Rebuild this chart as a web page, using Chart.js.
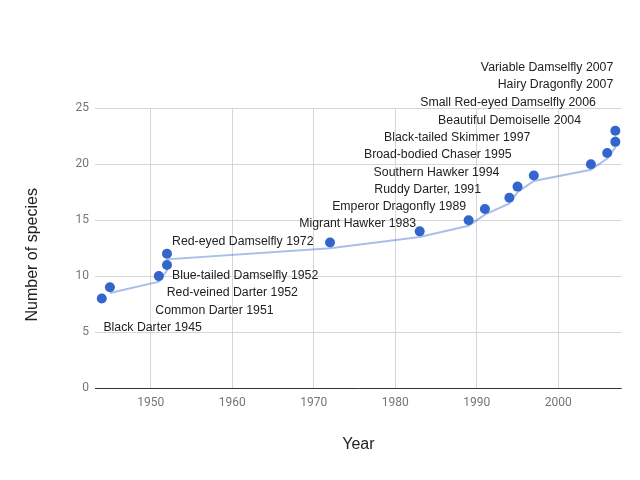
<!DOCTYPE html>
<html>
<head>
<meta charset="utf-8">
<script src="https://cdn.jsdelivr.net/npm/chart.js@4"></script>
<style>
  html, body { margin: 0; padding: 0; background: #fff; }
  #wrap { width: 640px; height: 480px; }
</style>
</head>
<body>
<div id="wrap"><canvas id="c" width="640" height="480"></canvas></div>
<script>
// ---- data ----
const years   = [1944, 1945, 1951, 1952, 1952, 1972, 1983, 1989, 1991, 1994, 1995, 1997, 2004, 2006, 2007, 2007];
const species = [8, 9, 10, 11, 12, 13, 14, 15, 16, 17, 18, 19, 20, 21, 22, 23];
const trend   = [null, 8.5, 9.5, 10.5, 11.5, 12.5, 13.5, 14.5, 15.5, 16.5, 17.5, 18.5, 19.5, 20.5, 21.5, 22.5];
const pointLabels = [
  '', 'Black Darter 1945', 'Common Darter 1951', 'Red-veined Darter 1952', 'Blue-tailed Damselfly 1952',
  'Red-eyed Damselfly 1972', 'Migrant Hawker 1983', 'Emperor Dragonfly 1989', 'Ruddy Darter, 1991',
  'Southern Hawker 1994', 'Broad-bodied Chaser 1995', 'Black-tailed Skimmer 1997', 'Beautiful Demoiselle 2004',
  'Small Red-eyed Damselfly 2006', 'Hairy Dragonfly 2007', 'Variable Damselfly 2007'
];
const xTicks = [1950, 1960, 1970, 1980, 1990, 2000];
const yTicks = [0, 5, 10, 15, 20, 25];

// ---- label layout (pixel offsets from each point, alignment) ----
const labelLayout = [
  null,
  [-6.5, 40.5, 'left'], [-3.5, 34, 'left'], [-0.3, 27.9, 'left'], [5, 22.1, 'left'],
  [-16.5, -1.4, 'right'], [-3.6, -7.5, 'right'], [-2.5, -13.3, 'right'], [-3.9, -19.5, 'right'],
  [-10, -25.6, 'right'], [-5.9, -31.7, 'right'], [-3.5, -37.9, 'right'], [-9.9, -44, 'right'],
  [-11.3, -50.5, 'right'], [-2.1, -56.9, 'right'], [-2.1, -63.1, 'right']
];

const pointData = years.map((y, i) => ({ x: y, y: species[i] }));
const trendData = years.map((y, i) => ({ x: y, y: trend[i] })).filter(p => p.y !== null);

const labelPlugin = {
  id: 'pointLabels',
  afterDatasetsDraw(chart) {
    const meta = chart.getDatasetMeta(1);
    const ctx = chart.ctx;
    ctx.save();
    ctx.font = '12.3px "Liberation Sans", Arial, sans-serif';
    ctx.fillStyle = '#222';
    ctx.textBaseline = 'middle';
    meta.data.forEach((el, i) => {
      const txt = pointLabels[i];
      const lay = labelLayout[i];
      if (!txt || !lay) return;
      ctx.textAlign = lay[2];
      ctx.fillText(txt, el.x + lay[0], el.y + lay[1]);
    });
    ctx.restore();
  }
};

new Chart(document.getElementById('c'), {
  type: 'scatter',
  data: {
    datasets: [
      {
        label: 'Trend',
        data: trendData,
        showLine: true,
        borderColor: 'rgba(51,102,204,0.42)',
        borderWidth: 2,
        pointRadius: 0,
        pointHoverRadius: 0,
        tension: 0,
        order: 2
      },
      {
        label: 'Number of species',
        data: pointData,
        backgroundColor: '#3366cc',
        borderWidth: 0,
        pointRadius: 5,
        pointHoverRadius: 5,
        order: 1
      }
    ]
  },
  options: {
    responsive: false,
    animation: false,
    devicePixelRatio: 1,
    layout: { padding: { left: 0, right: 18.3, top: 108.3, bottom: 0 } },
    plugins: { legend: { display: false }, tooltip: { enabled: false } },
    scales: {
      x: {
        type: 'linear',
        min: 1943.17,
        max: 2007.78,
        afterBuildTicks: s => { s.ticks = xTicks.map(v => ({ value: v })); },
        afterFit: s => { s.height = 92; },
        grid: { color: '#d6d6d6', lineWidth: 1, drawTicks: false },
        border: { display: false },
        ticks: {
          color: '#757575',
          font: { family: 'Roboto', size: 12 },
          padding: 7.5,
          maxRotation: 0,
          callback: v => String(v)
        },
        title: {
          display: true,
          text: 'Year',
          color: '#222',
          font: { family: '"Liberation Sans", Arial, sans-serif', size: 16 },
          padding: { top: 0, bottom: 25.4 }
        }
      },
      y: {
        min: 0,
        max: 25,
        afterBuildTicks: s => { s.ticks = yTicks.map(v => ({ value: v })); },
        afterFit: s => { s.width = 95; },
        grid: {
          color: c => (c.tick && c.tick.value === 0 ? '#333' : '#d6d6d6'),
          lineWidth: 1,
          drawTicks: false
        },
        border: { display: false },
        ticks: {
          color: '#757575',
          font: { family: 'Roboto', size: 12 },
          padding: 6
        },
        title: {
          display: true,
          text: 'Number of species\u00a0\u00a0\u00a0',
          color: '#222',
          font: { family: '"Liberation Sans", Arial, sans-serif', size: 16 },
          padding: { top: 23.4, bottom: 0 }
        }
      }
    }
  },
  plugins: [labelPlugin]
});
</script>
</body>
</html>
